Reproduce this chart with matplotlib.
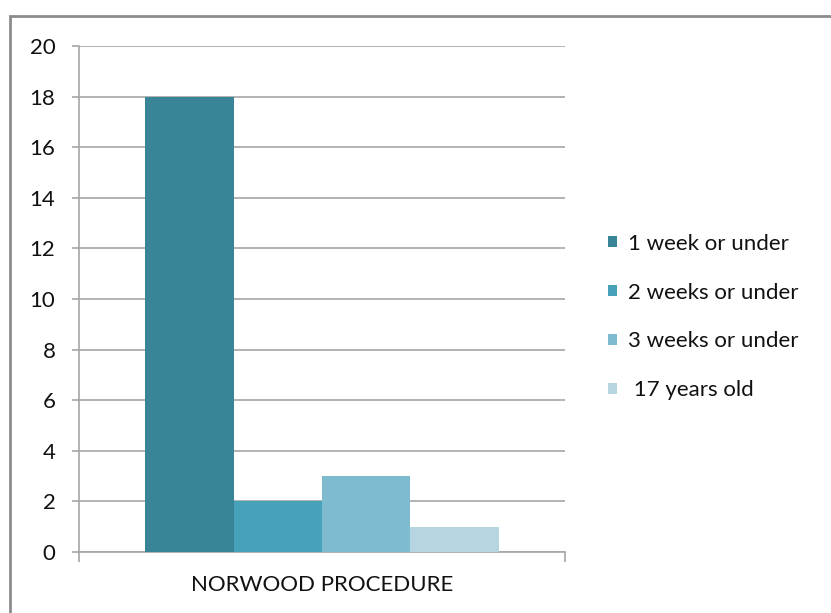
import matplotlib.pyplot as plt
from matplotlib.patches import Rectangle, Patch

# Age groups at time of procedure and number of patients
groups = ['1 week or under', '2 weeks or under', '3 weeks or under', ' 17 years old']
counts = [18, 2, 3, 1]
category = 'NORWOOD PROCEDURE'

colors = ['#378596', '#46A1B9', '#7FBBCF', '#B5D6E1']
grid_col = '#A6A6A6'

plt.rcParams['font.family'] = ['Lato', 'DejaVu Sans']

fig = plt.figure(figsize=(8.31, 6.13), dpi=100)
ax = fig.add_axes([79 / 831, 1 - 552 / 613, 486 / 831, 506 / 613])

# Four side-by-side bars in a single category, gap of 1.5 bar widths
n = len(counts)
bw = 1 / (n + 1.5)
start = -0.5 + 0.75 * bw
for i, (val, col) in enumerate(zip(counts, colors)):
    ax.bar(start + (i + 0.5) * bw, val, width=bw, color=col, zorder=3)

ax.set_xlim(-0.5, 0.5)
ax.set_ylim(0, 20)
ax.set_yticks(range(0, 21, 2))
ax.yaxis.grid(True, color=grid_col, linewidth=1.2, zorder=0)
ax.set_xticks([-0.5, 0.5])
ax.set_xticklabels([])
ax.tick_params(axis='y', length=5, color=grid_col, width=1.2, labelsize=16, pad=12,
               labelcolor='#111111')
ax.tick_params(axis='x', length=7, color=grid_col, width=1.2)

for side in ['top', 'right']:
    ax.spines[side].set_visible(False)
for side in ['left', 'bottom']:
    ax.spines[side].set_color(grid_col)
    ax.spines[side].set_linewidth(1.2)

ax.text(0.5, -0.065, category, transform=ax.transAxes, ha='center', va='center',
        fontsize=16, color='#111111')

handles = [Patch(facecolor=c, edgecolor='none') for c in colors]
fig.legend(handles, groups, loc='center left', bbox_to_anchor=(608 / 831, 1 - 317 / 613),
           frameon=False, fontsize=16, labelspacing=1.3, handlelength=0.42,
           handleheight=0.42, handletextpad=0.5, borderpad=0, borderaxespad=0,
           labelcolor='#111111')

# Outer chart frame
fig.patches.append(Rectangle((10 / 831, -0.1), 1.2, 1 - 16 / 613 + 0.1,
                             transform=fig.transFigure, fill=False,
                             edgecolor='#8C8C8C', linewidth=2))

fig.savefig('out.png', dpi=100)
